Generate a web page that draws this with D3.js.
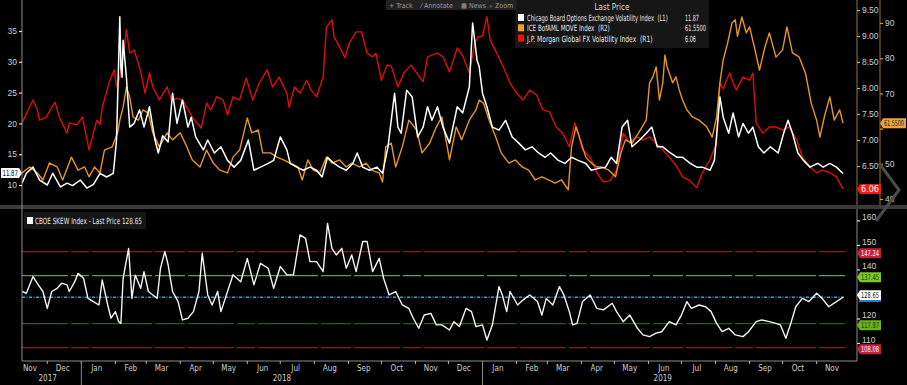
<!DOCTYPE html>
<html><head><meta charset="utf-8">
<script src="https://cdn.jsdelivr.net/npm/d3@7"></script>
<style>
html,body{margin:0;padding:0;background:#000;}
svg{display:block;font-family:"Liberation Sans Narrow","DejaVu Sans Condensed","Liberation Sans",Arial,sans-serif;}
text{white-space:pre;}
</style></head><body>
<svg id="c" width="907" height="385"></svg>
<script>
// ---------------- DATA ----------------
const seriesNames = ["Chicago Board Options Exchange Volatility Index  (L1)", "ICE BofAML MOVE Index  (R2)", "J.P. Morgan Global FX Volatility Index  (R1)"];
const lastPrices = ["11.87", "61.5500", "6.06"];
const skewName = "CBOE SKEW Index - Last Price 128.65";
const leftTicks = [10, 15, 20, 25, 30, 35];
const r1Ticks = [6.5, 7.0, 7.5, 8.0, 8.5, 9.0, 9.5];
const r2Ticks = [40, 50, 60, 70, 80, 90];
const skewTicks = [110, 120, 130, 140, 150, 160];
const skewLevels = [147.24, 137.45, 128.65, 117.87, 108.08];
const toolbar = ["+ Track", "\u2044 Annotate", "\u25A6 News", "\u2315 Zoom"];

const vixData = [["2017-11-08",10.3],["2017-11-12",11.9],["2017-11-18",12.9],["2017-11-24",10.8],["2017-12-01",10.0],["2017-12-06",11.9],["2017-12-13",9.7],["2017-12-19",10.3],["2017-12-24",9.9],["2017-12-31",10.8],["2018-01-06",9.5],["2018-01-12",10.1],["2018-01-18",11.9],["2018-01-24",11.3],["2018-01-30",11.9],["2018-01-31",13.5],["2018-02-02",17.3],["2018-02-05",37.3],["2018-02-06",29.0],["2018-02-07",27.5],["2018-02-08",33.5],["2018-02-11",27.5],["2018-02-14",19.4],["2018-02-18",20.0],["2018-02-23",22.2],["2018-02-27",19.4],["2018-03-04",22.7],["2018-03-09",17.3],["2018-03-12",15.2],["2018-03-16",18.0],["2018-03-21",17.0],["2018-03-25",24.9],["2018-03-29",20.0],["2018-04-03",23.8],["2018-04-08",19.4],["2018-04-11",21.0],["2018-04-15",17.8],["2018-04-22",15.7],["2018-04-26",17.3],["2018-05-02",15.2],["2018-05-08",16.2],["2018-05-14",14.0],["2018-05-20",12.9],["2018-05-26",14.0],["2018-06-02",17.3],["2018-06-07",12.4],["2018-06-13",12.9],["2018-06-20",13.5],["2018-06-25",14.0],["2018-07-01",17.8],["2018-07-07",15.7],["2018-07-10",13.5],["2018-07-16",12.9],["2018-07-22",12.4],["2018-07-28",12.9],["2018-08-03",12.4],["2018-08-08",11.3],["2018-08-13",14.5],["2018-08-19",13.5],["2018-08-24",12.9],["2018-08-30",12.4],["2018-09-05",13.5],["2018-09-09",15.2],["2018-09-14",12.9],["2018-09-20",12.4],["2018-09-27",12.9],["2018-10-02",11.9],["2018-10-07",16.2],["2018-10-13",24.9],["2018-10-16",19.4],["2018-10-19",18.4],["2018-10-24",25.4],["2018-10-29",24.3],["2018-11-03",17.8],["2018-11-08",19.4],["2018-11-12",22.7],["2018-11-16",20.5],["2018-11-21",22.7],["2018-11-26",19.4],["2018-12-02",16.8],["2018-12-09",22.7],["2018-12-14",21.7],["2018-12-20",25.9],["2018-12-23",36.3],["2018-12-27",30.3],["2018-12-29",29.2],["2019-01-01",24.9],["2019-01-05",22.7],["2019-01-10",19.4],["2019-01-16",18.9],["2019-01-22",20.5],["2019-01-28",17.8],["2019-02-03",16.8],["2019-02-09",15.7],["2019-02-15",16.2],["2019-02-21",15.2],["2019-02-27",14.5],["2019-03-04",15.2],["2019-03-11",14.0],["2019-03-17",13.5],["2019-03-23",14.5],["2019-03-29",14.0],["2019-04-05",13.5],["2019-04-10",12.4],["2019-04-17",12.7],["2019-04-23",12.9],["2019-04-28",14.5],["2019-05-03",13.5],["2019-05-08",19.4],["2019-05-13",20.5],["2019-05-17",16.2],["2019-05-24",17.3],["2019-05-30",18.4],["2019-06-04",19.4],["2019-06-09",16.2],["2019-06-14",16.2],["2019-06-21",15.2],["2019-06-27",14.5],["2019-07-02",14.5],["2019-07-09",13.5],["2019-07-15",12.9],["2019-07-20",12.9],["2019-07-27",12.4],["2019-07-31",14.0],["2019-08-05",24.3],["2019-08-08",21.0],["2019-08-13",18.4],["2019-08-17",21.7],["2019-08-22",17.8],["2019-08-26",20.0],["2019-08-31",18.4],["2019-09-04",19.4],["2019-09-09",16.2],["2019-09-14",15.2],["2019-09-20",16.2],["2019-09-27",15.2],["2019-10-02",18.4],["2019-10-06",20.5],["2019-10-10",18.4],["2019-10-15",15.2],["2019-10-20",14.0],["2019-10-26",12.9],["2019-11-02",13.5],["2019-11-07",12.9],["2019-11-13",13.5],["2019-11-19",12.9],["2019-11-25",11.87]];

const moveData = [["2017-11-08",47.4],["2017-11-15",49.1],["2017-11-22",47.4],["2017-11-27",45.4],["2017-12-03",50.2],["2017-12-10",49.1],["2017-12-15",45.4],["2017-12-23",51.9],["2017-12-29",48.2],["2018-01-04",49.1],["2018-01-08",46.3],["2018-01-13",49.1],["2018-01-18",47.4],["2018-01-22",53.9],["2018-01-29",54.8],["2018-02-03",58.8],["2018-02-05",62.4],["2018-02-08",66.1],["2018-02-11",71.8],["2018-02-14",69.0],["2018-02-17",63.3],["2018-02-22",62.4],["2018-02-26",65.3],["2018-03-03",64.4],["2018-03-07",58.8],["2018-03-13",54.8],["2018-03-20",58.8],["2018-03-25",56.8],["2018-04-01",58.8],["2018-04-07",54.8],["2018-04-12",51.1],["2018-04-19",49.1],["2018-04-25",53.9],["2018-05-01",50.2],["2018-05-07",48.2],["2018-05-14",47.4],["2018-05-19",51.9],["2018-05-25",53.9],["2018-06-01",63.0],["2018-06-05",58.8],["2018-06-11",59.6],["2018-06-15",53.1],["2018-06-22",53.1],["2018-06-28",51.9],["2018-07-04",51.1],["2018-07-10",50.2],["2018-07-17",49.1],["2018-07-21",45.4],["2018-07-26",51.1],["2018-07-31",48.2],["2018-08-06",47.4],["2018-08-12",51.9],["2018-08-17",50.2],["2018-08-24",51.1],["2018-08-30",49.1],["2018-09-04",50.2],["2018-09-11",49.1],["2018-09-17",50.2],["2018-09-22",48.2],["2018-09-29",47.4],["2018-10-02",44.8],["2018-10-05",54.8],["2018-10-10",55.9],["2018-10-14",49.1],["2018-10-20",54.8],["2018-10-26",62.4],["2018-11-02",59.6],["2018-11-07",53.1],["2018-11-14",55.9],["2018-11-20",60.5],["2018-11-25",63.3],["2018-12-02",51.1],["2018-12-08",60.5],["2018-12-13",56.8],["2018-12-20",62.4],["2018-12-26",65.3],["2018-12-29",68.1],["2019-01-02",67.2],["2019-01-07",62.4],["2019-01-13",57.6],["2019-01-18",53.1],["2019-01-25",50.2],["2019-01-31",51.1],["2019-02-06",49.1],["2019-02-12",48.2],["2019-02-18",45.4],["2019-02-24",46.3],["2019-03-02",45.4],["2019-03-08",44.5],["2019-03-14",45.4],["2019-03-20",42.6],["2019-03-23",54.8],["2019-03-27",60.5],["2019-03-31",56.8],["2019-04-05",51.9],["2019-04-10",50.2],["2019-04-15",49.1],["2019-04-19",49.1],["2019-04-26",48.2],["2019-05-02",46.3],["2019-05-07",53.1],["2019-05-11",56.8],["2019-05-17",55.9],["2019-05-23",58.8],["2019-05-30",62.4],["2019-06-02",73.0],["2019-06-05",74.7],["2019-06-08",77.5],["2019-06-11",68.1],["2019-06-14",73.0],["2019-06-16",80.9],["2019-06-18",77.5],["2019-06-23",73.0],["2019-06-26",74.7],["2019-06-29",71.0],["2019-07-02",68.1],["2019-07-06",65.3],["2019-07-11",63.3],["2019-07-17",62.4],["2019-07-24",60.5],["2019-07-29",57.6],["2019-08-02",63.3],["2019-08-05",73.0],["2019-08-08",79.5],["2019-08-12",84.3],["2019-08-16",90.0],["2019-08-19",90.9],["2019-08-21",86.2],["2019-08-25",91.7],["2019-08-29",87.2],["2019-09-01",88.9],["2019-09-06",82.3],["2019-09-10",76.6],["2019-09-15",83.2],["2019-09-19",87.2],["2019-09-25",80.3],["2019-10-01",82.3],["2019-10-05",88.9],["2019-10-10",81.5],["2019-10-16",80.4],["2019-10-22",75.6],["2019-10-27",67.3],["2019-11-01",62.4],["2019-11-04",57.6],["2019-11-08",63.3],["2019-11-13",69.0],["2019-11-17",62.4],["2019-11-22",65.3],["2019-11-25",61.55]];

const fxVolData = [["2017-11-08",7.33],["2017-11-18",7.77],["2017-11-22",7.58],["2017-11-24",7.38],["2017-11-30",7.44],["2017-12-08",7.73],["2017-12-12",7.44],["2017-12-19",7.13],["2017-12-21",7.33],["2017-12-28",7.29],["2018-01-02",7.44],["2018-01-08",6.81],["2018-01-15",7.38],["2018-01-18",7.30],["2018-01-20",7.63],["2018-01-27",8.15],["2018-01-31",8.35],["2018-02-02",8.02],["2018-02-05",8.20],["2018-02-08",8.60],["2018-02-11",9.12],["2018-02-14",8.67],["2018-02-18",8.73],["2018-02-23",8.40],["2018-02-28",7.90],["2018-03-04",8.29],["2018-03-07",8.02],["2018-03-13",7.77],["2018-03-20",8.02],["2018-03-24",7.77],["2018-03-29",7.80],["2018-04-03",7.77],["2018-04-12",7.44],["2018-04-20",7.23],["2018-04-25",7.71],["2018-04-29",7.58],["2018-05-04",7.83],["2018-05-10",7.77],["2018-05-14",7.48],["2018-05-19",7.83],["2018-05-25",7.77],["2018-05-31",8.19],["2018-06-06",7.77],["2018-06-12",8.10],["2018-06-19",8.35],["2018-06-24",8.02],["2018-06-30",8.21],["2018-07-07",7.90],["2018-07-09",7.63],["2018-07-14",8.02],["2018-07-19",7.90],["2018-07-25",8.15],["2018-07-29",7.96],["2018-08-03",7.83],["2018-08-09",8.21],["2018-08-12",9.17],["2018-08-17",9.31],["2018-08-19",8.98],["2018-08-24",8.79],["2018-08-29",8.58],["2018-09-02",8.87],["2018-09-08",9.08],["2018-09-13",9.08],["2018-09-18",8.67],["2018-09-23",8.60],["2018-09-26",8.67],["2018-10-01",8.15],["2018-10-06",8.44],["2018-10-10",8.42],["2018-10-16",8.02],["2018-10-22",8.31],["2018-10-28",8.44],["2018-11-02",8.29],["2018-11-08",8.12],["2018-11-12",8.60],["2018-11-21",8.67],["2018-11-26",8.60],["2018-12-02",8.31],["2018-12-09",8.77],["2018-12-14",8.62],["2018-12-20",8.29],["2018-12-25",8.87],["2018-12-28",8.98],["2019-01-01",9.00],["2019-01-05",9.37],["2019-01-08",8.92],["2019-01-14",8.67],["2019-01-20",8.40],["2019-01-26",8.10],["2019-02-01",7.90],["2019-02-07",7.77],["2019-02-13",7.96],["2019-02-19",7.87],["2019-02-25",7.58],["2019-03-03",7.54],["2019-03-09",7.25],["2019-03-15",7.13],["2019-03-21",6.87],["2019-03-26",7.33],["2019-03-29",7.13],["2019-04-02",6.81],["2019-04-09",6.67],["2019-04-15",6.37],["2019-04-21",6.19],["2019-04-27",6.22],["2019-05-03",6.42],["2019-05-09",7.13],["2019-05-15",6.94],["2019-05-21",7.06],["2019-05-27",7.00],["2019-06-02",7.06],["2019-06-08",6.94],["2019-06-14",6.81],["2019-06-20",6.67],["2019-06-27",6.48],["2019-07-02",6.29],["2019-07-08",6.23],["2019-07-15",6.08],["2019-07-20",6.37],["2019-07-27",6.62],["2019-08-02",6.94],["2019-08-05",8.10],["2019-08-08",7.98],["2019-08-11",8.15],["2019-08-14",8.29],["2019-08-17",8.10],["2019-08-20",7.96],["2019-08-26",8.21],["2019-09-01",8.15],["2019-09-04",8.29],["2019-09-07",7.33],["2019-09-13",7.13],["2019-09-19",7.25],["2019-09-25",7.25],["2019-10-01",7.19],["2019-10-07",7.25],["2019-10-14",7.00],["2019-10-19",6.67],["2019-10-26",6.48],["2019-11-01",6.37],["2019-11-06",6.42],["2019-11-13",6.37],["2019-11-19",6.29],["2019-11-25",6.06]];

const skewData = [["2017-11-08",131.0],["2017-11-12",130.3],["2017-11-18",137.1],["2017-11-23",133.6],["2017-11-27",131.0],["2017-12-01",124.1],["2017-12-05",131.0],["2017-12-10",132.3],["2017-12-14",134.4],["2017-12-19",133.7],["2017-12-21",131.0],["2017-12-26",135.0],["2017-12-29",138.4],["2018-01-03",136.4],["2018-01-07",128.2],["2018-01-12",126.9],["2018-01-17",125.5],["2018-01-20",135.7],["2018-01-25",125.5],["2018-01-28",120.1],["2018-02-01",122.8],["2018-02-04",118.7],["2018-02-06",118.0],["2018-02-08",136.4],["2018-02-13",148.6],["2018-02-16",128.2],["2018-02-19",137.7],["2018-02-24",132.3],["2018-02-27",139.1],["2018-03-03",131.0],["2018-03-07",129.6],["2018-03-11",128.2],["2018-03-14",140.5],["2018-03-18",147.3],["2018-03-21",141.8],["2018-03-25",131.0],["2018-03-30",126.9],["2018-04-03",119.4],["2018-04-08",120.1],["2018-04-13",122.8],["2018-04-18",131.0],["2018-04-21",146.6],["2018-04-26",129.6],["2018-04-30",125.5],["2018-05-05",131.0],["2018-05-08",122.8],["2018-05-14",131.0],["2018-05-19",137.8],["2018-05-26",135.0],["2018-06-01",144.5],["2018-06-07",133.7],["2018-06-13",142.5],["2018-06-20",140.5],["2018-06-25",132.3],["2018-07-01",141.2],["2018-07-07",137.8],["2018-07-13",137.8],["2018-07-19",154.1],["2018-07-24",152.7],["2018-07-28",143.2],["2018-08-03",143.2],["2018-08-09",139.1],["2018-08-13",158.8],["2018-08-17",148.6],["2018-08-21",145.9],["2018-08-26",148.6],["2018-08-30",140.5],["2018-09-04",145.9],["2018-09-08",139.1],["2018-09-14",151.4],["2018-09-18",151.4],["2018-09-23",139.1],["2018-09-29",144.5],["2018-10-03",136.4],["2018-10-08",129.6],["2018-10-14",131.0],["2018-10-20",125.5],["2018-10-26",124.1],["2018-10-30",120.1],["2018-11-04",116.0],["2018-11-09",121.4],["2018-11-15",122.1],["2018-11-20",117.4],["2018-11-25",117.4],["2018-12-02",115.3],["2018-12-06",118.7],["2018-12-11",116.7],["2018-12-17",124.1],["2018-12-22",122.8],["2018-12-26",116.7],["2019-01-01",117.4],["2019-01-05",111.2],["2019-01-10",117.4],["2019-01-16",133.0],["2019-01-19",129.6],["2019-01-23",122.8],["2019-01-26",131.0],["2019-02-02",125.5],["2019-02-07",127.6],["2019-02-13",129.6],["2019-02-20",126.9],["2019-02-24",121.4],["2019-02-28",128.2],["2019-03-06",125.5],["2019-03-12",133.0],["2019-03-16",129.6],["2019-03-21",122.8],["2019-03-24",117.4],["2019-03-28",118.0],["2019-04-02",126.9],["2019-04-09",129.6],["2019-04-15",124.1],["2019-04-21",123.5],["2019-04-29",126.2],["2019-05-03",122.8],["2019-05-09",118.7],["2019-05-15",121.4],["2019-05-22",116.0],["2019-05-27",113.3],["2019-06-02",112.6],["2019-06-08",114.0],["2019-06-13",114.6],["2019-06-20",118.7],["2019-06-26",117.4],["2019-07-01",121.4],["2019-07-06",126.9],["2019-07-10",124.1],["2019-07-17",125.5],["2019-07-23",124.8],["2019-07-28",122.8],["2019-08-02",118.0],["2019-08-07",114.6],["2019-08-13",116.0],["2019-08-19",113.3],["2019-08-26",112.6],["2019-08-31",114.6],["2019-09-07",118.7],["2019-09-12",119.4],["2019-09-19",118.7],["2019-09-25",118.0],["2019-09-29",117.4],["2019-10-04",111.9],["2019-10-09",118.7],["2019-10-13",124.8],["2019-10-19",128.2],["2019-10-25",126.9],["2019-11-01",130.3],["2019-11-06",128.2],["2019-11-12",124.8],["2019-11-19",126.9],["2019-11-25",128.65]];

// ---------------- CHART ----------------
const parse = d3.timeParse("%Y-%m-%d");
const svg = d3.select("#c");
const FONT_COL = "#cfcfcf";

svg.append("rect").attr("width", 907).attr("height", 385).attr("fill", "#000");

const x = d3.scaleTime().domain([parse("2017-11-08"), parse("2019-11-25")]).range([22, 843]);
const yL = d3.scaleLinear().domain([10, 35]).range([185, 31]);
const yR1 = d3.scaleLinear().domain([6, 9.5]).range([192, 10]);
const yR2 = d3.scaleLinear().domain([40, 90]).range([199, 23]);
const yS = d3.scaleLinear().domain([108.08, 147.24]).range([347.7, 251.7]);

// text squeezed horizontally to a target width (narrow terminal font look)
function narrowText(parent, tx, ty, txt, size, fill, width) {
  const g = parent.append("g").attr("transform", `translate(${tx},${ty})`);
  const t = g.append("text").attr("x", 0).attr("y", 0).attr("fill", fill).attr("font-size", size).text(txt);
  const len = t.node().getComputedTextLength();
  const s = len > 0 ? width / len : 1;
  g.attr("transform", `translate(${tx},${ty}) scale(${s},1)`);
  return g;
}

const defs = svg.append("defs");
defs.append("clipPath").attr("id", "topclip").append("rect").attr("x", 22).attr("y", 0).attr("width", 835).attr("height", 205);
defs.append("clipPath").attr("id", "botclip").append("rect").attr("x", 22).attr("y", 210).attr("width", 835).attr("height", 151);

svg.append("rect").attr("x", 0).attr("y", 205).attr("width", 907).attr("height", 4).attr("fill", "#3a3a3a");

// ---------- bottom reference lines ----------
const levelStyles = [
  {c: "#8a1c22", dash: "46,3,18,3,60,3,30,3"},
  {c: "#6a9c34", dash: "46,3,18,3,60,3,30,3"},
  {c: "#3aa0d6", dash: "3,1.5,1,1.5"},
  {c: "#2f5a1e", dash: "46,3,18,3,60,3,30,3"},
  {c: "#8a1c22", dash: "46,3,18,3,60,3,30,3"}
];
const gb = svg.append("g").attr("clip-path", "url(#botclip)");
skewLevels.forEach((lv, i) => {
  gb.append("line").attr("x1", 22).attr("x2", 845).attr("y1", yS(lv)).attr("y2", yS(lv))
    .attr("stroke", levelStyles[i].c).attr("stroke-width", i === 2 ? 1.6 : 1.2)
    .attr("stroke-dasharray", levelStyles[i].dash);
});

// ---------- lines ----------
const mk = (ys) => d3.line().x(d => x(parse(d[0]))).y(d => ys(d[1]));
const gt = svg.append("g").attr("clip-path", "url(#topclip)");
gt.append("path").datum(fxVolData).attr("d", mk(yR1)).attr("fill", "none").attr("stroke", "#e00c0c").attr("stroke-width", 1.4).attr("stroke-linejoin", "round");
gt.append("path").datum(moveData).attr("d", mk(yR2)).attr("fill", "none").attr("stroke", "#e8961e").attr("stroke-width", 1.4).attr("stroke-linejoin", "round");
gt.append("path").datum(vixData).attr("d", mk(yL)).attr("fill", "none").attr("stroke", "#ffffff").attr("stroke-width", 1.5).attr("stroke-linejoin", "round");
gb.append("path").datum(skewData).attr("d", mk(yS)).attr("fill", "none").attr("stroke", "#f4f4f4").attr("stroke-width", 1.4).attr("stroke-linejoin", "round");

// ---------- axes ----------
function styleAxis(g, tickCol) {
  g.select(".domain").remove();
  g.selectAll(".tick line").attr("stroke", tickCol).attr("stroke-width", 1.2);
  g.selectAll(".tick text").attr("fill", FONT_COL).attr("font-size", 8.5);
}
svg.append("line").attr("x1", 22).attr("x2", 22).attr("y1", 0).attr("y2", 361).attr("stroke", "#8a8a8a").attr("stroke-width", 1);
const aL = svg.append("g").attr("transform", "translate(22,0)")
  .call(d3.axisLeft(yL).tickValues(leftTicks).tickSize(3).tickPadding(2));
styleAxis(aL, "#e0e0e0");

svg.append("line").attr("x1", 857).attr("x2", 857).attr("y1", 0).attr("y2", 205).attr("stroke", "#7d6528").attr("stroke-width", 1.2);
svg.append("line").attr("x1", 880).attr("x2", 880).attr("y1", 0).attr("y2", 205).attr("stroke", "#7d6528").attr("stroke-width", 1.2);
const aR1 = svg.append("g").attr("transform", "translate(857,0)")
  .call(d3.axisRight(yR1).tickValues(r1Ticks).tickFormat(d3.format(".2f")).tickSize(3).tickPadding(2));
styleAxis(aR1, "#d8b030");
// 60 sits behind the last-price tag in the reference
const aR2 = svg.append("g").attr("transform", "translate(880,0)")
  .call(d3.axisRight(yR2).tickValues(r2Ticks).tickFormat(d => d === 60 ? "" : d).tickSize(3).tickPadding(2));
styleAxis(aR2, "#e89a20");

svg.append("line").attr("x1", 857).attr("x2", 857).attr("y1", 209).attr("y2", 361).attr("stroke", "#8a8a8a").attr("stroke-width", 1);
// 130 sits behind the 128.65 tag in the reference
const aS = svg.append("g").attr("transform", "translate(857,0)")
  .call(d3.axisRight(yS).tickValues(skewTicks).tickFormat(d => d === 130 ? "" : d).tickSize(3).tickPadding(2));
styleAxis(aS, "#e0e0e0");
aS.selectAll(".tick text").attr("dy", "-0.1em");

// x axis
svg.append("line").attr("x1", 22).attr("x2", 857).attr("y1", 361).attr("y2", 361).attr("stroke", "#8a8a8a");
const monthStarts = d3.timeMonth.range(parse("2017-12-01"), parse("2019-12-01"));
svg.append("g").selectAll("line").data(monthStarts).join("line")
  .attr("x1", d => x(d)).attr("x2", d => x(d)).attr("y1", 361).attr("y2", 364)
  .attr("stroke", "#bbb");
const monthMids = d3.timeMonth.range(parse("2017-11-01"), parse("2019-12-01"))
  .map(d => d3.timeDay.offset(d, 14));
svg.append("g").selectAll("text").data(monthMids).join("text")
  .attr("x", d => Math.max(x(d), 30)).attr("y", 371).attr("text-anchor", "middle")
  .attr("fill", FONT_COL).attr("font-size", 8).text(d => d3.timeFormat("%b")(d));
const yearStarts = [parse("2018-01-01"), parse("2019-01-01")];
svg.append("g").selectAll("line").data(yearStarts).join("line")
  .attr("x1", d => x(d)).attr("x2", d => x(d)).attr("y1", 361).attr("y2", 385).attr("stroke", "#8a8a8a");
const yearLabels = [["2017", parse("2017-11-08"), parse("2018-01-01")], ["2018", parse("2018-01-01"), parse("2019-01-01")], ["2019", parse("2019-01-01"), parse("2019-11-25")]];
svg.append("g").selectAll("text").data(yearLabels).join("text")
  .attr("x", d => (x(d[1]) + x(d[2])) / 2 - (d[0] === "2017" ? 4 : 0)).attr("y", 381).attr("text-anchor", "middle")
  .attr("fill", FONT_COL).attr("font-size", 8).text(d => d[0]);

// ---------- value tags ----------
function tagRight(xl, yc, w, fill, txtCol, txt) {
  const h = 10;
  svg.append("path").attr("d", `M${xl},${yc} L${xl + 3},${yc - h / 2} L${xl + w},${yc - h / 2} L${xl + w},${yc + h / 2} L${xl + 3},${yc + h / 2} Z`).attr("fill", fill);
  narrowText(svg, xl + 4, yc + 3, txt, 8, txtCol, w - 6);
}
{
  const yc = yL(11.87) - 0.5;
  svg.append("path").attr("d", `M1,${yc - 5} L19,${yc - 5} L22,${yc} L19,${yc + 5} L1,${yc + 5} Z`).attr("fill", "#fff");
  narrowText(svg, 2.5, yc + 3, lastPrices[0], 8, "#000", 15.5);
}
tagRight(880, yR2(61.55), 26, "#eba23a", "#222", lastPrices[1]);
tagRight(857, yR1(6.06), 24, "#ee1a1a", "#fff", lastPrices[2]);

const skewTagCols = [["#c7203c", "#fff"], ["#7cc81e", "#1a3008"], ["#ffffff", "#111"], ["#6cb21a", "#1a3008"], ["#c7203c", "#fff"]];
skewLevels.forEach((lv, i) => {
  tagRight(857, yS(lv) + (i === 2 ? -2 : 1.5), 24, skewTagCols[i][0], skewTagCols[i][1], d3.format(".2f")(lv));
});
svg.append("line").attr("x1", 859).attr("x2", 881).attr("y1", yS(128.65) + 3.8).attr("y2", yS(128.65) + 3.8).attr("stroke", "#2a8fe0").attr("stroke-width", 1.6);

// ---------- legends ----------
svg.append("rect").attr("x", 515).attr("y", 0).attr("width", 194).attr("height", 48).attr("fill", "#161616");
svg.append("text").attr("x", 612).attr("y", 10).attr("text-anchor", "middle").attr("fill", "#dcdcdc").attr("font-size", 8).text("Last Price");
const legCols = ["#ffffff", "#f0a030", "#ee1111"];
const legLens = [141, 83, 126];
const valLens = [14, 21, 11];
seriesNames.forEach((n, i) => {
  const yy = 21 + i * 10.3;
  svg.append("rect").attr("x", 518).attr("y", yy - 7).attr("width", 6).attr("height", 7).attr("fill", legCols[i]);
  narrowText(svg, 527, yy, n, 8.5, "#e4e4e4", legLens[i]);
  narrowText(svg, 685, yy, lastPrices[i], 8.5, "#e4e4e4", valLens[i]);
});

svg.append("rect").attr("x", 24).attr("y", 212).attr("width", 122).attr("height", 17).attr("fill", "#161616");
svg.append("rect").attr("x", 27).attr("y", 217).attr("width", 6).attr("height", 7).attr("fill", "#fff");
narrowText(svg, 35, 224, skewName, 8.5, "#e4e4e4", 107);

svg.append("rect").attr("x", 386).attr("y", 0).attr("width", 130).attr("height", 10).attr("fill", "#222");
const tbX = [389, 421, 461, 489];
toolbar.forEach((t, i) => {
  svg.append("text").attr("x", tbX[i]).attr("y", 8).attr("fill", "#9a9a9a").attr("font-size", 7).text(t);
});

svg.append("path").attr("d", "M879,163 L899,190 L876,221").attr("fill", "none").attr("stroke", "#4a4a4a").attr("stroke-width", 3);
</script>
</body></html>
